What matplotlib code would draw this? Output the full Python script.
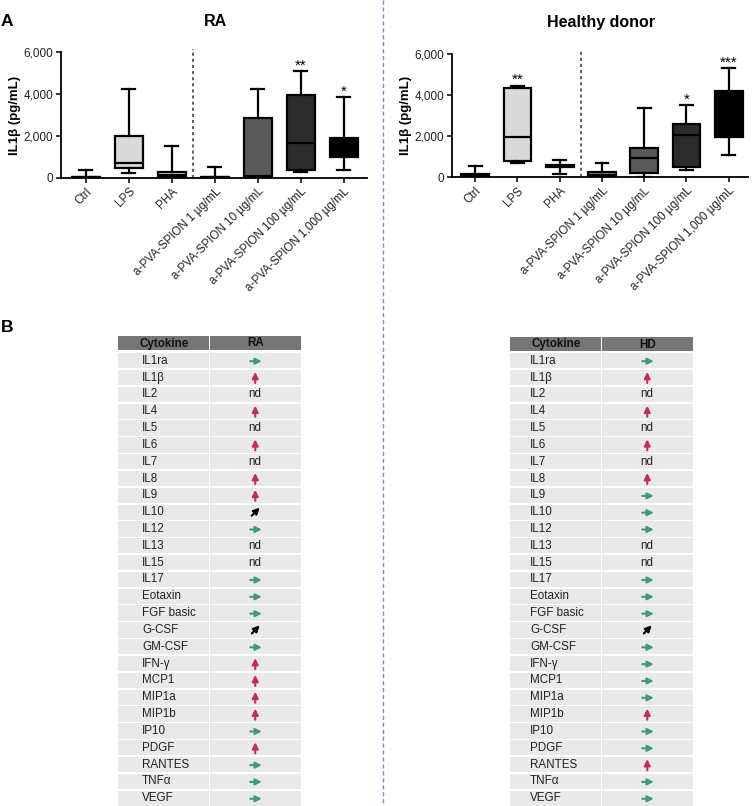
import matplotlib
matplotlib.use('Agg')
import matplotlib.pyplot as plt
from matplotlib.patches import Rectangle

plt.rcParams['font.family'] = ['Liberation Sans', 'DejaVu Sans']

W, H = 752, 806

categories = ['Ctrl', 'LPS', 'PHA', 'a-PVA-SPION 1 µg/mL', 'a-PVA-SPION 10 µg/mL',
              'a-PVA-SPION 100 µg/mL', 'a-PVA-SPION 1,000 µg/mL']

# RA box statistics (pg/mL)
ra_min = [0, 240, 0, 0, 0, 270, 370]
ra_q1 = [0, 450, 50, 0, 20, 370, 1000]
ra_med = [20, 690, 120, 10, 60, 1680, 1500]
ra_q3 = [50, 2000, 260, 30, 2850, 3970, 1920]
ra_max = [370, 4250, 1540, 490, 4250, 5120, 3860]
ra_sig = ['', '', '', '', '', '**', '*']

# Healthy donor box statistics (pg/mL)
hd_min = [0, 680, 160, 0, 30, 360, 1090]
hd_q1 = [0, 800, 520, 30, 190, 520, 1980]
hd_med = [60, 1940, 550, 100, 920, 2060, 3000]
hd_q3 = [170, 4330, 580, 275, 1440, 2580, 4210]
hd_max = [530, 4460, 850, 710, 3390, 3520, 5330]
hd_sig = ['', '**', '', '', '', '*', '***']

box_colors = ['#d9d9d9', '#d9d9d9', '#d9d9d9', '#8c8c8c', '#595959', '#2b2b2b', '#000000']

yticks = [0, 2000, 4000, 6000]
ytick_labels = ['0', '2,000', '4,000', '6,000']

# Cytokine table
cytokines = ['IL1ra', 'IL1β', 'IL2', 'IL4', 'IL5', 'IL6', 'IL7', 'IL8', 'IL9', 'IL10',
             'IL12', 'IL13', 'IL15', 'IL17', 'Eotaxin', 'FGF basic', 'G-CSF', 'GM-CSF',
             'IFN-γ', 'MCP1', 'MIP1a', 'MIP1b', 'IP10', 'PDGF', 'RANTES', 'TNFα', 'VEGF']
ra_trend = ['flat', 'up', 'nd', 'up', 'nd', 'up', 'nd', 'up', 'up', 'incr',
            'flat', 'nd', 'nd', 'flat', 'flat', 'flat', 'incr', 'flat',
            'up', 'up', 'up', 'up', 'flat', 'up', 'flat', 'flat', 'flat']
hd_trend = ['flat', 'up', 'nd', 'up', 'nd', 'up', 'nd', 'up', 'flat', 'flat',
            'flat', 'nd', 'nd', 'flat', 'flat', 'flat', 'incr', 'flat',
            'flat', 'flat', 'flat', 'up', 'flat', 'flat', 'up', 'flat', 'flat']

fig = plt.figure(figsize=(W / 100, H / 100), dpi=100)

# overlay in pixel coordinates
ov = fig.add_axes([0, 0, 1, 1])
ov.set_xlim(0, W)
ov.set_ylim(H, 0)
ov.axis('off')

# separator
ov.plot([383, 383], [0, H], color='#7f86c4', lw=1.0, ls=(0, (3, 2)))

ov.text(1, 21, 'A', fontsize=12.5, fontweight='bold', ha='left', va='center')
ov.text(1, 328, 'B', fontsize=12.5, fontweight='bold', ha='left', va='center')
ov.text(215, 22, 'RA', fontsize=11.5, fontweight='bold', ha='center', va='center')
ov.text(601, 22, 'Healthy donor', fontsize=11.5, fontweight='bold', ha='center', va='center')


def make_panel(rect, mins, q1s, meds, q3s, maxs, sig, xlim, ylab_x):
    ax = fig.add_axes(rect)
    ax.set_facecolor('none')
    stats = []
    for i in range(len(categories)):
        stats.append(dict(whislo=mins[i], q1=q1s[i], med=meds[i], q3=q3s[i],
                          whishi=maxs[i], fliers=[]))
    pos = list(range(len(categories)))
    bp = ax.bxp(stats, positions=pos, widths=0.66, capwidths=0.3, patch_artist=True,
                showfliers=False,
                boxprops=dict(linewidth=1.6, edgecolor='black'),
                whiskerprops=dict(linewidth=1.6, color='black'),
                capprops=dict(linewidth=1.6, color='black'),
                medianprops=dict(linewidth=1.6, color='black'))
    for patch, c in zip(bp['boxes'], box_colors):
        patch.set_facecolor(c)
    for i, s in enumerate(sig):
        if s:
            ax.annotate(s, xy=(pos[i], maxs[i]), xytext=(0, 1), textcoords='offset points',
                        ha='center', va='baseline', fontsize=11, clip_on=False)
    ax.axvline(2.5, ymin=0, ymax=1.03, color='#333333', lw=1.1, ls=(0, (2, 2)), clip_on=False)
    ax.set_xlim(*xlim)
    ax.set_ylim(0, 6000)
    ax.set_yticks(yticks)
    ax.set_yticklabels(ytick_labels, fontsize=8.5, color='#222222')
    ax.set_xticks(pos)
    ax.set_xticklabels(categories, rotation=45, ha='right', rotation_mode='anchor',
                       fontsize=8.4, color='#222222')
    for s in ['top', 'right']:
        ax.spines[s].set_visible(False)
    for s in ['left', 'bottom']:
        ax.spines[s].set_linewidth(1.3)
    ax.tick_params(axis='both', length=3.5, width=1.1, pad=2)
    ax.set_ylabel('IL1β (pg/mL)', fontsize=9.5, fontweight='bold')
    ax.yaxis.set_label_coords(ylab_x, 0.5)
    return ax


make_panel([61 / W, 1 - 177.7 / H, (367 - 61) / W, (177.7 - 52.3) / H],
           ra_min, ra_q1, ra_med, ra_q3, ra_max, ra_sig, (-0.58, 6.54), -0.131)
make_panel([452 / W, 1 - 177.3 / H, (747.7 - 452) / W, (177.3 - 54) / H],
           hd_min, hd_q1, hd_med, hd_q3, hd_max, hd_sig, (-0.55, 6.45), -0.135)

# tables
row0 = 360.7
row_h = 16.83
green = '#3d9c7e'
red = '#c62a55'


def draw_arrow(cx, cy, kind):
    if kind == 'flat':
        xy, xyt, col = (cx + 6.5, cy + 0.5), (cx - 5, cy + 0.5), green
    elif kind == 'up':
        xy, xyt, col = (cx, cy - 5.5), (cx, cy + 5.5), red
    else:
        xy, xyt, col = (cx + 4.5, cy - 4.5), (cx - 3.5, cy + 3.5), 'black'
    ov.annotate('', xy=xy, xytext=xyt,
                arrowprops=dict(arrowstyle='-|>', color=col, lw=1.5, mutation_scale=9,
                                shrinkA=0, shrinkB=0))


def draw_table(x0, xsplit, x1, htop, head2, trend, text_x):
    gap = 1.5
    ov.add_patch(Rectangle((x0, htop), xsplit - x0 - gap / 2, 14, facecolor='#767676', lw=0))
    ov.add_patch(Rectangle((xsplit + gap / 2, htop), x1 - xsplit - gap / 2, 14,
                           facecolor='#767676', lw=0))
    ov.text((x0 + xsplit) / 2, htop + 7.5, 'Cytokine', fontsize=8.4, fontweight='bold',
            ha='center', va='center', color='#111111')
    ov.text((xsplit + x1) / 2, htop + 7.5, head2, fontsize=8.4, fontweight='bold',
            ha='center', va='center', color='#111111')
    c2 = (xsplit + x1) / 2
    for i, (name, t) in enumerate(zip(cytokines, trend)):
        cy = row0 + i * row_h
        top = cy - row_h / 2 + gap / 2
        hh = row_h - gap
        ov.add_patch(Rectangle((x0, top), xsplit - x0 - gap / 2, hh, facecolor='#e9e9e9', lw=0))
        ov.add_patch(Rectangle((xsplit + gap / 2, top), x1 - xsplit - gap / 2, hh,
                               facecolor='#e9e9e9', lw=0))
        ov.text(text_x, cy, name, fontsize=8.4, ha='left', va='center', color='#222222')
        if t == 'nd':
            ov.text(c2, cy, 'nd', fontsize=8.4, ha='center', va='center', color='#222222')
        else:
            draw_arrow(c2, cy, t)


draw_table(118, 209.5, 301, 336, 'RA', ra_trend, 142)
draw_table(510, 601.5, 693, 337, 'HD', hd_trend, 530)

fig.savefig('out.png', dpi=100)
